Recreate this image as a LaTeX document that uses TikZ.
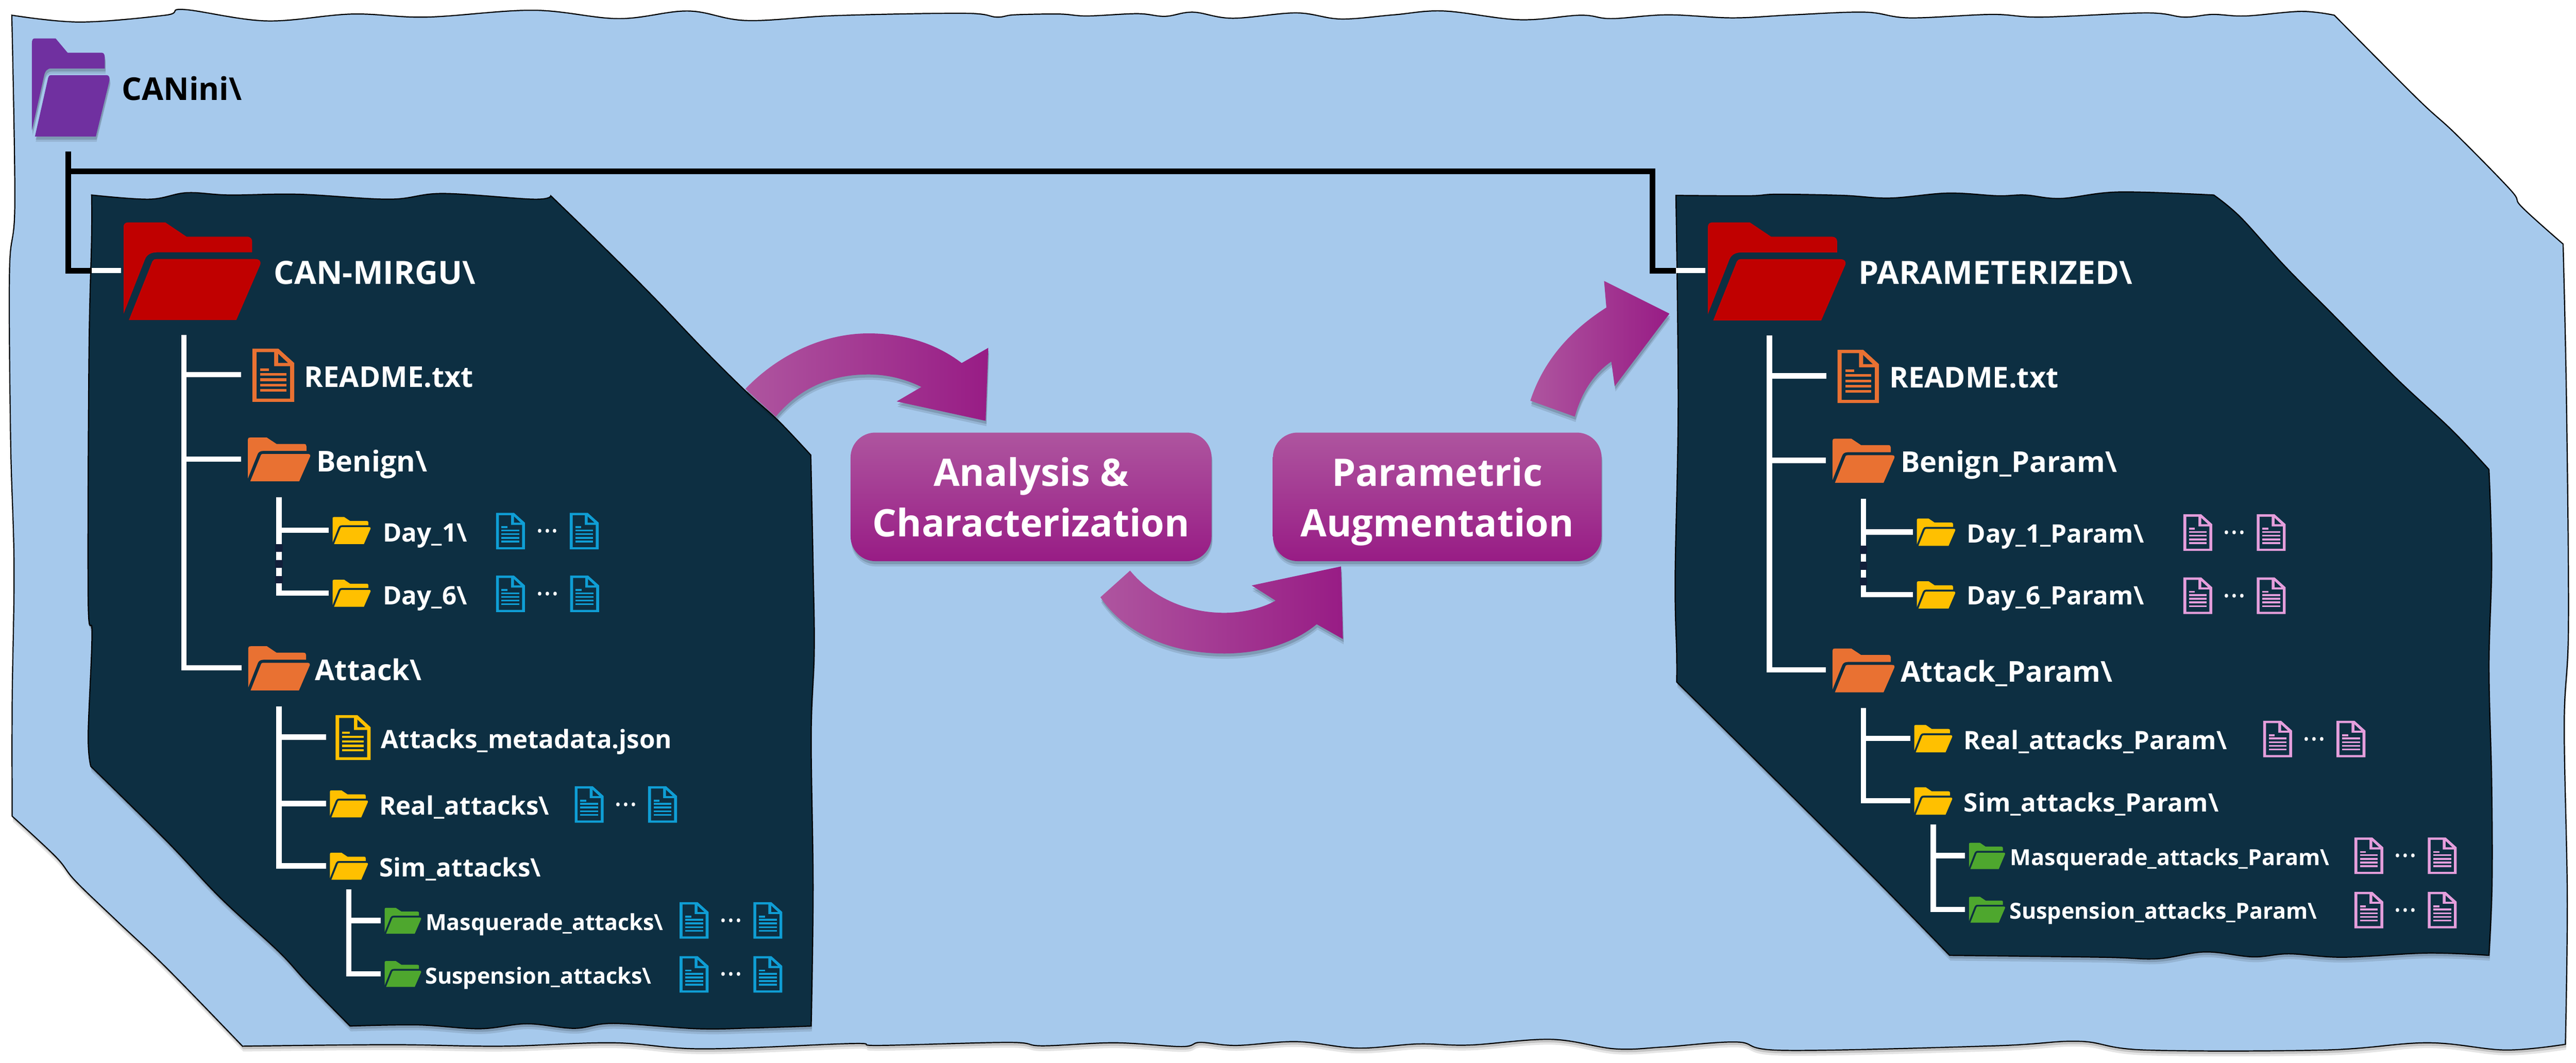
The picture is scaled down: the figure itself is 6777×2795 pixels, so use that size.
\documentclass[tikz,border=0pt]{standalone}
\usepackage{fontspec}
\setmainfont{Open Sans}
\usetikzlibrary{arrows.meta, positioning, shadows}

\definecolor{sheetblue}{HTML}{A6C9EC}
\definecolor{paneldark}{HTML}{0D2F42}
\definecolor{gapdark}{HTML}{111F3A}
\definecolor{folderpurple}{HTML}{7030A0}
\definecolor{folderred}{HTML}{C00000}
\definecolor{folderorange}{HTML}{E97132}
\definecolor{folderyellow}{HTML}{FFC000}
\definecolor{foldergreen}{HTML}{4EA72E}
\definecolor{docblue}{HTML}{0F9ED5}
\definecolor{docpink}{HTML}{E59EDC}
\definecolor{flowlight}{HTML}{AE559F}
\definecolor{flowmid}{HTML}{A4268F}
\definecolor{flowdark}{HTML}{981C85}

% name, left, top, width, height, fill options
\newcommand{\foldericon}[6]{%
  \begin{scope}[shift={(#2,#3)}, x=#4*0.01cm, y=-#5*0.01cm]
    \coordinate (#1-w) at (-.105,.49);
    \coordinate (#1-s) at (.5,1.36);
    \coordinate (#1-t) at (.5,.14);
    \coordinate (#1-b) at (.5,1);
    \fill[#6] (0,.05) .. controls (0,.015) and (.01,0) .. (.04,0) -- (.305,0) -- (.46,.146) -- (.90,.146)
      .. controls (.93,.146) and (.94,.17) .. (.94,.2) -- (.94,.306) -- (.25,.306)
      .. controls (.2,.306) and (.17,.33) .. (.156,.382) -- (0,.937) -- cycle;
    \fill[#6] (.21,.4) .. controls (.215,.385) and (.225,.375) .. (.24,.375) -- (.96,.375)
      .. controls (.99,.375) and (1.005,.39) .. (1,.43) -- (.824,1) -- (.039,1) -- cycle;
  \end{scope}
}

% name, left, top, width, height, colour
\newcommand{\docicon}[6]{%
  \begin{scope}[shift={(#2,#3)}, x=#4*0.01cm, y=-#5*0.01cm]
    \coordinate (#1-w) at (-.27,.49);
    \fill[#6] (0,0) -- (.62,0) -- (1,.27) -- (1,1) -- (0,1) -- cycle;
    \fill[paneldark] (.1,.065) -- (.52,.065) -- (.52,.33) -- (.9,.33) -- (.9,.94) -- (.1,.94) -- cycle;
    \fill[paneldark] (.62,.1) -- (.62,.27) -- (.85,.27) -- cycle;
    \fill[#6] (.19,.37) rectangle (.4,.42);
    \fill[#6] (.19,.46) rectangle (.81,.51);
    \fill[#6] (.19,.56) rectangle (.81,.61);
    \fill[#6] (.19,.66) rectangle (.81,.71);
    \fill[#6] (.19,.76) rectangle (.81,.81);
  \end{scope}
}

% name, left of first doc, left of second doc, top, colour
\newcommand{\docpair}[5]{%
  \docicon{#1a}{#2}{#4}{76}{96}{#5}
  \docicon{#1b}{#3}{#4}{76}{96}{#5}
  \node[dotslabel] (#1dots) at ({(#2+#3+76)/2},{#4+52}) {...};
}

\begin{document}
\begin{tikzpicture}[
    x=0.01cm, y=-0.01cm,
    softshadow/.style={
      drop shadow={shadow xshift=0.02cm, shadow yshift=-0.14cm, opacity=.10, fill=black},
      drop shadow={shadow xshift=0.02cm, shadow yshift=-0.08cm, opacity=.15, fill=black}},
    sheet/.style={fill=sheetblue, draw=black, line width=0.03cm, softshadow},
    panel/.style={fill=paneldark, draw=black, line width=0.03cm, softshadow},
    branch/.style={draw=white, line width=0.14cm},
    rootline/.style={draw=black, line width=0.15cm},
    gapline/.style={draw=gapdark, line width=0.2cm, dash pattern=on 0.21cm off 0.21cm},
    flowbox/.style={rectangle, rounded corners=0.65cm, top color=flowlight, middle color=flowmid,
      bottom color=flowdark, text=white, align=center, minimum height=3.38cm, text depth=0pt, softshadow,
      font=\fontsize{28.4}{37.8}\selectfont\bfseries},
    flowarrow/.style={left color=flowlight, middle color=flowmid, right color=flowdark, softshadow},
    lvltop/.style={anchor=base west, inner sep=0pt, text=white, font=\fontsize{24}{28}\selectfont\bfseries},
    lvlone/.style={anchor=base west, inner sep=0pt, text=white, font=\fontsize{21.5}{25}\selectfont\bfseries},
    lvltwo/.style={anchor=base west, inner sep=0pt, text=white, font=\fontsize{19}{23}\selectfont\bfseries},
    lvlthree/.style={anchor=base west, inner sep=0pt, text=white, font=\fontsize{16.6}{20}\selectfont\bfseries},
    dotslabel/.style={anchor=base, inner sep=0pt, text=white, font=\fontsize{21.5}{25}\selectfont},
]
\useasboundingbox (0,0) rectangle (6777,2795);

% Outer sheet
\path[sheet] plot[smooth, tension=.6] coordinates {(31,40) (210,58) (435,40) (484,25) (700,55) (926,37) (1122,45)
    (1403,27) (1627,49) (1810,29) (1964,54) (2200,41) (2537,35) (2622,45) (2669,39) (2787,37) (2860,42) (2992,36)
    (3065,43) (3139,32) (3242,48) (3410,34) (3527,50) (3667,39) (3799,29) (3997,52) (4158,40) (4239,49) (4386,39)
    (4558,47) (4718,39) (4907,32) (5023,47) (5240,38) (5371,45) (5647,34) (5746,45) (5821,38) (5908,42) (6054,30) (6141,40)}
  -- plot[smooth, tension=.6] coordinates {(6141,40) (6359,259) (6460,352) (6605,500) (6634,544) (6743,642)}
  -- plot[smooth, tension=.6] coordinates {(6743,642) (6752,1063) (6757,1646) (6746,1905) (6754,2362) (6749,2747)}
  -- plot[smooth, tension=.6] coordinates {(6749,2747) (6591,2762) (6386,2743) (6117,2762) (5643,2762) (5469,2739) (5248,2751)
    (4695,2763) (4569,2741) (4379,2754) (4249,2759) (4081,2734) (3866,2749) (3731,2746) (3571,2757) (3412,2740) (3252,2750)
    (3157,2742) (3109,2753) (2933,2743) (2742,2751) (2654,2742) (2312,2750) (2240,2745) (1848,2759) (1613,2743) (1320,2752)
    (1027,2748) (638,2752)}
  -- plot[smooth, tension=.6] coordinates {(638,2752) (440,2548) (308,2423) (198,2317) (147,2254) (32,2147)}
  -- plot[smooth, tension=.6] coordinates {(32,2147) (32,1845) (37,1489) (28,1161) (25,714) (39,536) (31,40)} -- cycle;

% Dark panels
\path[panel] plot[smooth, tension=.6] coordinates {(241,513) (393,524) (491,507) (603,513) (786,511) (1024,524) (1164,509) (1403,524) (1449,515)}
  -- plot[smooth, tension=.6] coordinates {(1449,515) (1585,647) (1719,781) (1852,920) (1964,1031) (2048,1107) (2133,1197)}
  -- plot[smooth, tension=.6] coordinates {(2133,1197) (2139,1489) (2142,1711) (2134,1934) (2139,2334) (2134,2699)}
  -- plot[smooth, tension=.6] coordinates {(2134,2699) (1980,2704) (1834,2706) (1614,2692) (1511,2705) (1386,2693) (1262,2706) (1100,2696) (921,2699)}
  -- plot[smooth, tension=.6] coordinates {(921,2699) (807,2583) (733,2503) (579,2361) (440,2214) (239,2016)}
  -- plot[smooth, tension=.6] coordinates {(239,2016) (232,1934) (242,1667) (232,1578) (234,938) (241,625) (241,513)} -- cycle;
\path[panel] plot[smooth, tension=.6] coordinates {(4409,514) (4602,515) (4674,511) (4848,514) (4972,521) (5124,508) (5255,515) (5328,513) (5422,522) (5574,505) (5824,513)}
  -- plot[smooth, tension=.6] coordinates {(5824,513) (5894,571) (6010,699) (6133,823) (6306,997) (6449,1130) (6548,1235)}
  -- plot[smooth, tension=.6] coordinates {(6548,1235) (6555,1478) (6548,1752) (6555,2057) (6556,2324) (6548,2513)}
  -- plot[smooth, tension=.6] coordinates {(6548,2513) (6386,2507) (6164,2518) (6022,2509) (5927,2517) (5801,2504) (5675,2522) (5532,2518) (5129,2513)}
  -- plot[smooth, tension=.6] coordinates {(5129,2513) (5027,2408) (4892,2271) (4592,1973) (4411,1794)}
  -- plot[smooth, tension=.6] coordinates {(4411,1794) (4411,1722) (4407,1519) (4415,1063) (4409,514)} -- cycle;

% Curved flow arrows
\path[flowarrow] (1961,1023) .. controls (2050,930) and (2170,877) .. (2285,877) .. controls (2380,877) and (2465,905) .. (2530,955)
  -- (2600,915) -- (2593,1107) -- (2359,1056) -- (2424,1018) .. controls (2385,998) and (2335,985) .. (2285,985)
  .. controls (2180,985) and (2100,1025) .. (2041,1096) -- cycle;
\path[flowarrow] (2973,1501) .. controls (3030,1570) and (3120,1612) .. (3221,1612) .. controls (3270,1612) and (3320,1600) .. (3356,1580)
  -- (3293,1540) -- (3528,1490) -- (3533,1681) -- (3464,1642) .. controls (3400,1695) and (3310,1719) .. (3221,1719)
  .. controls (3070,1719) and (2955,1660) .. (2895,1571) -- cycle;
\path[flowarrow] (4026,1054) .. controls (4060,950) and (4130,870) .. (4226,809) -- (4220,739) -- (4392,825) -- (4248,1016) -- (4239,951)
  .. controls (4190,985) and (4160,1035) .. (4143,1096) -- cycle;

% Process boxes
\node[flowbox, minimum width=9.49cm] (analysis) at (2712.5,1307) {Analysis \&\\Characterization};
\node[flowbox, minimum width=8.64cm, right=1.6cm of analysis] (augment) {Parametric\\Augmentation};

% Top folder
\foldericon{canini}{84}{101}{204}{258}{fill=folderpurple, softshadow}
\node[anchor=base west, inner sep=0pt, text=black, font=\fontsize{23.5}{28}\selectfont\bfseries] (caninilabel) at (320,263) {CANini\textbackslash};
\coordinate (canroot) at (180,398);
\coordinate (mirgucut) at (241,712);
\coordinate (paramcut) at (4409,712);
\coordinate (rootbend) at (4347,451);

% CAN-MIRGU tree
\foldericon{mirgu}{325}{585}{360}{257}{fill=folderred}
\node[lvltop] (mirgulabel) at (720,748) {CAN-MIRGU\textbackslash};
\coordinate (mirgustub) at (318,712);
\coordinate (mirgutrunk) at (484,881);

\docicon{readme}{664}{917}{110}{140}{folderorange}
\node[lvlone] (readmelabel) at (800,1018) {README.txt};
\foldericon{benign}{652}{1151}{164}{115}{fill=folderorange}
\node[lvlone] (benignlabel) at (832,1241) {Benign\textbackslash};
\foldericon{attack}{653}{1700}{162}{116}{fill=folderorange}
\node[lvlone] (attacklabel) at (828,1790) {Attack\textbackslash};

\foldericon{dayone}{875}{1360}{100}{71}{fill=folderyellow}
\node[lvltwo] (dayonelabel) at (1007,1425) {Day\_1\textbackslash};
\docpair{dayonedoc}{1305}{1499}{1349}{docblue}
\foldericon{daysix}{875}{1525}{100}{71}{fill=folderyellow}
\node[lvltwo] (daysixlabel) at (1007,1590) {Day\_6\textbackslash};
\docpair{daysixdoc}{1305}{1500}{1514}{docblue}

\docicon{meta}{883}{1881}{92}{118}{folderyellow}
\node[lvltwo] (metalabel) at (1002,1969) {Attacks\_metadata.json};
\foldericon{real}{868}{2079}{100}{71}{fill=folderyellow}
\node[lvltwo] (reallabel) at (997,2143) {Real\_attacks\textbackslash};
\docpair{realdoc}{1512}{1705}{2068}{docblue}
\foldericon{sim}{868}{2243}{100}{71}{fill=folderyellow}
\node[lvltwo] (simlabel) at (997,2306) {Sim\_attacks\textbackslash};

\foldericon{masq}{1012}{2388}{96}{68}{fill=foldergreen}
\node[lvlthree] (masqlabel) at (1119,2447) {Masquerade\_attacks\textbackslash};
\docpair{masqdoc}{1788}{1982}{2373}{docblue}
\foldericon{susp}{1012}{2528}{96}{68}{fill=foldergreen}
\node[lvlthree] (susplabel) at (1118,2588) {Suspension\_attacks\textbackslash};
\docpair{suspdoc}{1788}{1982}{2515}{docblue}

% PARAMETERIZED tree
\foldericon{param}{4493}{585}{362}{258}{fill=folderred}
\node[lvltop] (paramlabel) at (4889,748) {PARAMETERIZED\textbackslash};
\coordinate (paramstub) at (4486,712);
\coordinate (paramtrunk) at (4655,883);

\docicon{readmep}{4834}{920}{109}{140}{folderorange}
\node[lvlone] (readmeplabel) at (4970,1020) {README.txt};
\foldericon{benignp}{4821}{1154}{163}{116}{fill=folderorange}
\node[lvlone] (benignplabel) at (5000,1242) {Benign\_Param\textbackslash};
\foldericon{attackp}{4821}{1706}{163}{115}{fill=folderorange}
\node[lvlone] (attackplabel) at (5000,1794) {Attack\_Param\textbackslash};

\foldericon{dayonep}{5043}{1364}{101}{72}{fill=folderyellow}
\node[lvltwo] (dayoneplabel) at (5174,1428) {Day\_1\_Param\textbackslash};
\docpair{dayonepdoc}{5744}{5937}{1353}{docpink}
\foldericon{daysixp}{5043}{1529}{101}{72}{fill=folderyellow}
\node[lvltwo] (daysixplabel) at (5174,1591) {Day\_6\_Param\textbackslash};
\docpair{daysixpdoc}{5744}{5937}{1519}{docpink}

\foldericon{realp}{5036}{1907}{100}{72}{fill=folderyellow}
\node[lvltwo] (realplabel) at (5166,1971) {Real\_attacks\_Param\textbackslash};
\docpair{realpdoc}{5954}{6147}{1896}{docpink}
\foldericon{simp}{5036}{2071}{100}{72}{fill=folderyellow}
\node[lvltwo] (simplabel) at (5166,2136) {Sim\_attacks\_Param\textbackslash};

\foldericon{masqp}{5180}{2217}{95}{69}{fill=foldergreen}
\node[lvlthree] (masqplabel) at (5288,2277) {Masquerade\_attacks\_Param\textbackslash};
\docpair{masqpdoc}{6194}{6387}{2203}{docpink}
\foldericon{suspp}{5180}{2359}{95}{68}{fill=foldergreen}
\node[lvlthree] (suspplabel) at (5286,2418) {Suspension\_attacks\_Param\textbackslash};
\docpair{susppdoc}{6194}{6387}{2346}{docpink}

% Root connectors
\draw[rootline] (canroot) |- (mirgucut);
\draw[rootline] (canroot |- rootbend) -- (rootbend) |- (paramcut);
\draw[branch] (mirgucut) -- (mirgustub);
\draw[branch] (paramcut) -- (paramstub);

% Left tree connectors
\draw[branch] (mirgutrunk) |- (readme-w);
\draw[branch] (mirgutrunk) |- (benign-w);
\draw[branch] (mirgutrunk) |- (attack-w);
\draw[branch] (benign-s) |- (dayone-w);
\draw[branch] (benign-s) |- (daysix-w);
\draw[gapline] (benign-s |- dayone-b) -- (benign-s |- daysix-t);
\draw[branch] (attack-s) |- (meta-w);
\draw[branch] (attack-s) |- (real-w);
\draw[branch] (attack-s) |- (sim-w);
\draw[branch] (sim-s) |- (masq-w);
\draw[branch] (sim-s) |- (susp-w);

% Right tree connectors
\draw[branch] (paramtrunk) |- (readmep-w);
\draw[branch] (paramtrunk) |- (benignp-w);
\draw[branch] (paramtrunk) |- (attackp-w);
\draw[branch] (benignp-s) |- (dayonep-w);
\draw[branch] (benignp-s) |- (daysixp-w);
\draw[gapline] (benignp-s |- dayonep-b) -- (benignp-s |- daysixp-t);
\draw[branch] (attackp-s) |- (realp-w);
\draw[branch] (attackp-s) |- (simp-w);
\draw[branch] (simp-s) |- (masqp-w);
\draw[branch] (simp-s) |- (suspp-w);

\end{tikzpicture}
\end{document}
